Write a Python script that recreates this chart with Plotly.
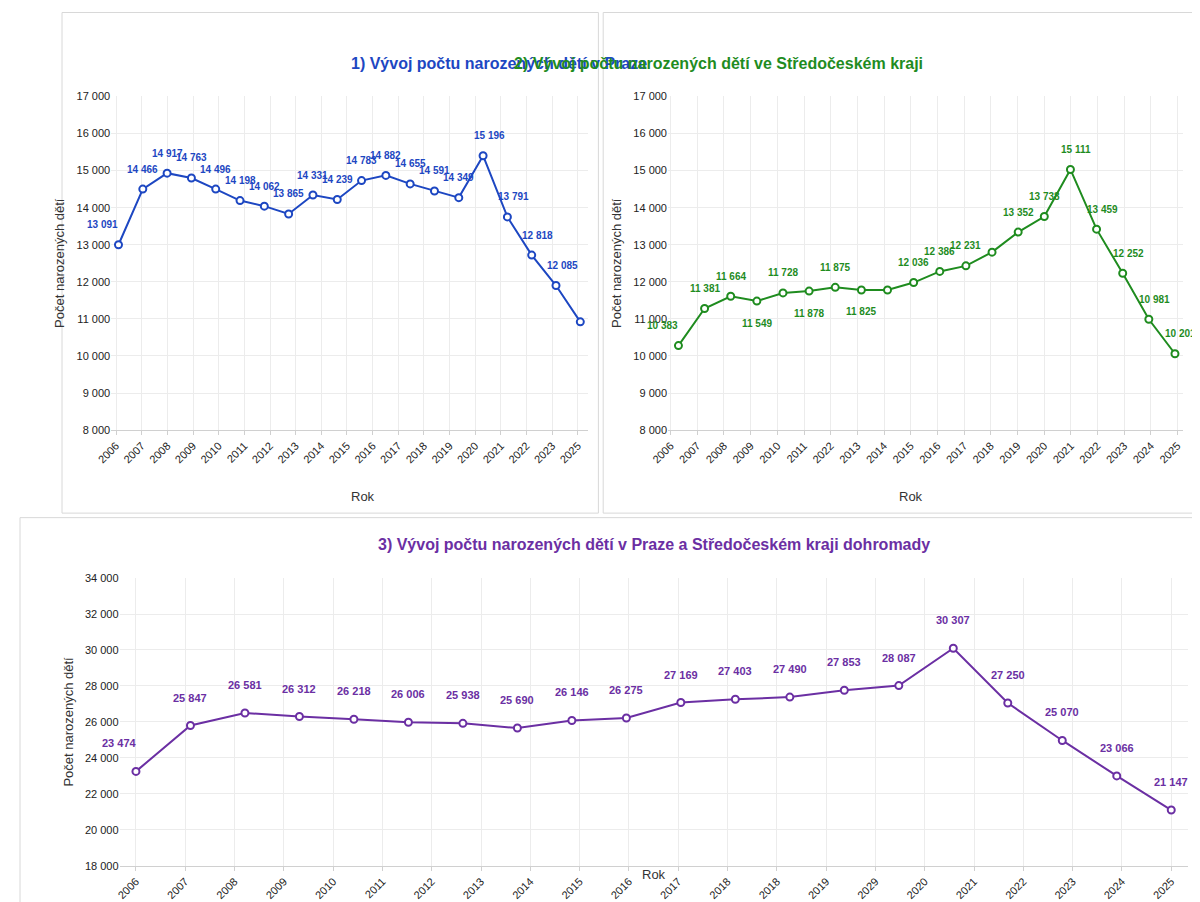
import numpy as np
import plotly.graph_objects as go

# --- data ---
# 1) Praha
praha_vals = [13000, 14500, 14930, 14800, 14500, 14190, 14040, 13830, 14340, 14220,
              14730, 14870, 14640, 14450, 14270, 15400, 13750, 12720, 11900, 10920]
praha_labels = ["13 091", "14 466", "14 917", "14 763", "14 496", "14 198", "14 062", "13 865", "14 331", "14 239",
                "14 783", "14 882", "14 655", "14 591", "14 349", "15 196", "13 791", "12 818", "12 085", ""]
praha_ticks = ["2006", "2007", "2008", "2009", "2010", "2011", "2012", "2013", "2014", "2015",
               "2016", "2017", "2018", "2019", "2020", "2021", "2022", "2023", "2025"]

# 2) Středočeský kraj
stc_vals = [10280, 11280, 11610, 11480, 11700, 11750, 11850, 11780, 11780, 11980,
            12280, 12430, 12800, 13340, 13760, 15030, 13420, 12230, 10990, 10060]
stc_labels = ["10 383", "11 381", "11 664", "11 549", "11 728", "11 878", "11 875", "11 825", "", "12 036",
              "12 386", "12 231", "", "13 352", "13 738", "15 111", "13 459", "12 252", "10 981", "10 201"]
stc_ticks = ["2006", "2007", "2008", "2009", "2010", "2011", "2022", "2013", "2014", "2015",
             "2016", "2017", "2018", "2019", "2020", "2021", "2022", "2023", "2024", "2025"]

# 3) dohromady
sum_vals = [23250, 25800, 26500, 26300, 26150, 25980, 25920, 25660, 26080, 26220,
            27080, 27260, 27380, 27760, 28020, 30100, 27050, 24970, 23000, 21100]
sum_labels = ["23 474", "25 847", "26 581", "26 312", "26 218", "26 006", "25 938", "25 690", "26 146", "26 275",
              "27 169", "27 403", "27 490", "27 853", "28 087", "30 307", "27 250", "25 070", "23 066", "21 147"]
sum_ticks = ["2006", "2007", "2008", "2009", "2010", "2011", "2012", "2013", "2014", "2015", "2016",
             "2017", "2018", "2018", "2019", "2029", "2020", "2021", "2022", "2023", "2024", "2025"]

BLUE = "#1d47c2"
GREEN = "#1f8c1f"
PURPLE = "#6b2fa3"
FONT = "Liberation Sans"

fig = go.Figure()

panels = [
    dict(vals=praha_vals, labels=praha_labels, ticks=praha_ticks, color=BLUE,
         xd=[0.086, 0.483], yd=[0.532, 0.902], yr=[8000, 17000], dt=1000,
         xr=[-0.3, 19.3], tick_span=[-0.1, 18.9], title="1) Vývoj počtu narozených dětí v Praze",
         ty=0.95, rok_y=0.458, lsize=10),
    dict(vals=stc_vals, labels=stc_labels, ticks=stc_ticks, color=GREEN,
         xd=[0.55, 0.979], yd=[0.532, 0.902], yr=[8000, 17000], dt=1000,
         xr=[-0.4, 19.3], tick_span=[-0.3, 19.1], title="2) Vývoj počtu narozených dětí ve Středočeském kraji",
         ty=0.95, rok_y=0.458, lsize=10),
    dict(vals=sum_vals, labels=sum_labels, ticks=sum_ticks, color=PURPLE,
         xd=[0.093, 0.983], yd=[0.049, 0.368], yr=[18000, 34000], dt=2000,
         xr=[-0.3, 19.3], tick_span=[0, 19], title="3) Vývoj počtu narozených dětí v Praze a Středočeském kraji dohromady",
         ty=0.405, rok_y=0.029, lsize=11),
]

below = {1: [3, 5, 7]}

for i, p in enumerate(panels):
    n = str(i + 1) if i else ""
    xs = list(range(len(p["vals"])))
    fig.add_trace(go.Scatter(
        x=xs, y=p["vals"], mode="lines+markers", xaxis="x" + n, yaxis="y" + n,
        line=dict(color=p["color"], width=2),
        marker=dict(size=7, color="white", line=dict(color=p["color"], width=2)),
        showlegend=False, hoverinfo="skip"))
    for j, (x, y, t) in enumerate(zip(xs, p["vals"], p["labels"])):
        if not t:
            continue
        shift = -22 if j in below.get(i, []) else (28 if i == 2 else 20)
        xsh = -16 if j == 0 else (6 if i < 2 and j >= 15 else 0)
        fig.add_annotation(x=x, y=y, xref="x" + n, yref="y" + n, text="<b>" + t + "</b>", showarrow=False,
                           yshift=shift, xshift=xsh,
                           font=dict(family=FONT, size=p["lsize"], color=p["color"]))
    tv = list(np.linspace(p["tick_span"][0], p["tick_span"][1], len(p["ticks"])))
    fig.update_layout(**{
        "xaxis" + n: dict(domain=p["xd"], anchor="y" + n, range=p["xr"], tickvals=tv, ticktext=p["ticks"],
                          tickangle=-45, showgrid=True, gridcolor="#ececec", zeroline=False,
                          showline=True, linecolor="#d0d0d0", ticks="outside", tickcolor="#d0d0d0", ticklen=4,
                          tickfont=dict(family=FONT, size=11, color="#222"), automargin=False),
        "yaxis" + n: dict(domain=p["yd"], anchor="x" + n, range=p["yr"], dtick=p["dt"],
                          tickformat=",d", showgrid=True, gridcolor="#ececec", zeroline=False,
                          tickfont=dict(family=FONT, size=11, color="#222"), automargin=False,
                          title=dict(text="Počet narozených dětí", standoff=8,
                                     font=dict(family=FONT, size=13, color="#333"))),
    })
    mid = (p["xd"][0] + p["xd"][1]) / 2
    fig.add_annotation(x=mid, y=p["ty"], xref="paper", yref="paper", text="<b>" + p["title"] + "</b>",
                       showarrow=False, font=dict(family=FONT, size=16, color=p["color"]))
    fig.add_annotation(x=mid, y=p["rok_y"], xref="paper", yref="paper", text="Rok",
                       showarrow=False, font=dict(family=FONT, size=13, color="#333"))

# panel frames
for x0, x1, y0, y1 in [(0.045, 0.492, 0.44, 0.995), (0.496, 0.997, 0.44, 0.995), (0.01, 0.997, 0.004, 0.435)]:
    fig.add_shape(type="rect", xref="paper", yref="paper", x0=x0, x1=x1, y0=y0, y1=y1,
                  line=dict(color="#d8d8d8", width=1), layer="below")

fig.update_layout(width=1200, height=902, margin=dict(l=0, r=0, t=0, b=0, autoexpand=False),
                  paper_bgcolor="white", plot_bgcolor="white",
                  separators=". ")
fig.write_html("out.html")
